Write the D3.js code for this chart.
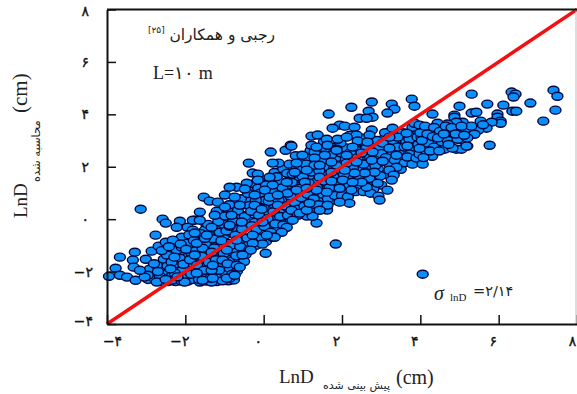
<!DOCTYPE html>
<html>
<head>
<meta charset="utf-8">
<script src="https://cdn.jsdelivr.net/npm/d3@7"></script>
<style>
body { margin: 0; background: #fff; }
svg { display: block; }
</style>
</head>
<body>
<div id="chart-area"></div>
<script>
// Points: [predicted LnD, computed LnD]
const cloudLeft = [[-3.14,0.38],[-2.58,0],[-2.5,-0.15],[-2.76,-0.61],[-3.29,-1.26],[-3.67,-1.45],[-3.78,-1.87],[-3.34,-1.56],[-3.01,-1.53],[-3.95,-2.18],[-3.67,-2.14],[-3.49,-2.21],[-3.27,-2.33],[-3.32,-1.83],[-2.91,-1.91],[-2.86,-1.22],[-2.68,-1.03],[-2.5,-0.88],[-2.14,-0.08],[-2.22,-0.31],[-2.55,-1.53],[-2.96,-2.14],[-2.65,-2.18],[-2.45,-1.79],[-1.96,-2.14],[-3.04,-2.21],[-2.35,-2.33],[-2.73,-2.4],[-2.02,-2.4],[-1.63,-2.4],[-1.33,-2.4],[-1.76,-0.04],[-1.94,-0.31],[-2.09,-0.69],[-2.32,-0.8],[-1.81,-0.42],[-1.5,-0.42],[-1.45,-0.69],[-1.96,-0.92],[-2.22,-1.18],[-2.47,-1.37],[-2.09,-1.07],[-1.84,-1.3],[-2.14,-1.49],[-2.35,-1.64],[-2.73,-1.76],[-3.16,-1.95],[-2.07,-1.95],[-1.81,-1.68],[-1.45,-1.56],[-1.3,-1.37],[-1.43,-2.14],[-2.27,-2.06],[-2.8,-1.7],[-2.7,-2],[-2.6,-1.2],[-2.5,-2.3],[-2.42,-1.05],[-2.38,-1.9],[-2.28,-1.45],[-2.2,-2.2],[-2.12,-0.95],[-2.05,-1.72],[-1.98,-1.15],[-1.9,-0.6],[-1.88,-1.55],[-1.85,-2.1],[-1.78,-0.82],[-1.72,-1.2],[-1.7,-1.75],[-1.65,-2.3],[-1.6,-0.55],[-1.58,-1.42],[-1.52,-1.95],[-1.48,-0.95],[-1.42,-0.2],[-1.4,-1.65],[-1.36,-2.25],[-1.3,-0.75],[-1.26,-1.1],[-1.22,-1.55],[-1.2,0.3],[-1.16,-0.1],[-1.14,-1.95],[-1.08,-0.82],[-1.05,-2.35],[-1.02,-1.32],[-1.56,-1.11],[-1.76,-1.37],[-1.33,-1.26],[-1.71,-0.92],[-1.5,-0.73],[-1.12,-0.5],[-1.71,-2.06],[-1.56,-2.33],[-1.3,-2.25],[-1.33,-1.95],[-1.3,-1.76],[-1.05,-1.56],[-1.81,-0.04],[-1.63,-0.04],[-1.63,0.27],[-1.25,0.15],[-1.53,0.84],[-1.38,0.69],[-1.17,0.65],[-1.33,-0.31],[-1.45,-0.61],[-1.76,-0.53]];

const cloudLeftInner = [[-2.95,-2.3],[-2.85,-2.05],[-2.78,-2.28],[-2.62,-2.38],[-2.58,-1.88],[-2.52,-2.1],[-2.44,-2.38],[-2.4,-1.55],[-2.33,-2.12],[-2.3,-1.2],[-2.25,-2.38],[-2.18,-1.72],[-2.15,-1.98],[-2.1,-2.36],[-2.05,-1.28],[-1.98,-1.82],[-1.94,-2.36],[-1.92,-1.42],[-1.86,-1.02],[-1.82,-2.3],[-1.8,-1.9],[-1.75,-0.72],[-1.74,-1.52],[-1.68,-1.05],[-1.66,-2],[-1.62,-1.62],[-1.6,-0.78],[-1.56,-2.18],[-1.54,-1.28],[-1.5,-1.78],[-1.46,-0.22],[-1.46,-2.36],[-1.42,-1.15],[-1.38,-0.48],[-1.36,-1.82],[-1.32,-0.95],[-1.28,-2.05],[-1.24,-0.35],[-1.22,-1.2],[-1.2,-2.38],[-1.18,-1.68],[-1.15,-0.65],[-1.12,-2.15],[-1.1,-1.05],[-1.08,0.08],[-1.05,-1.82],[-1.02,-0.2],[-1,-0.62],[-0.98,-2.05],[-0.96,-1.48],[-0.92,-0.92],[-0.9,-2.35],[-0.9,0.28],[-0.86,-1.88],[-0.84,-0.5],[-0.82,-1.25],[-0.8,0.38],[-0.78,-1.58],[-0.76,-2.32],[-0.74,-0.32],[-0.72,-1.15],[-0.7,0.62],[-0.68,-1.98],[-0.66,-0.1],[-0.64,-0.92],[-0.62,-1.58]];

const cloudMiddle = [[-0.98,0.12],[-0.95,-0.45],[-0.92,-1.7],[-0.88,0.55],[-0.84,-1],[-0.8,-2.1],[-0.78,-0.08],[-0.72,-0.62],[-0.7,-1.4],[-0.66,0.32],[-0.6,-1.05],[-0.58,0.78],[-0.55,-0.38],[-0.5,-1.62],[-0.48,0.1],[-0.42,-0.72],[-0.4,0.98],[-0.36,-1.15],[-0.32,0.3],[-0.3,-0.25],[-0.2,0.72],[-0.18,-0.4],[-0.12,0.15],[-0.08,1],[-0.05,-0.72],[0,0.42],[0.02,-0.28],[0.06,1.3],[0.1,0.02],[0.13,0.68],[0.18,-0.5],[0.22,1.08],[0.25,0.28],[0.3,-0.18],[0.33,1.62],[0.38,0.72],[0.42,0.1],[0.48,1.2],[0.5,-0.22],[0.55,0.5],[0.6,1.75],[0.62,0.15],[0.68,0.88],[0.72,1.4],[0.8,0.62],[0.84,1.92],[0.88,0.38],[0.92,1.18],[0.96,0.82],[-0.38,2.14],[0.18,2.56],[0.56,2.63],[0.69,2.82],[0.38,2.14],[0.23,2.14],[-0.28,1.76],[-0.15,1.72],[0.15,1.6],[-0.15,1.49],[-0.69,1.22],[-0.87,1.22],[-0.43,1.37],[-0.48,1.15],[0.23,1.3],[0.59,1.41],[0.74,1.72],[0.03,1.11],[0.61,0.99],[-0.99,0.92],[-0.74,0.84],[-0.23,0.92],[0.15,0.84],[0.36,0.92],[0.84,1.11],[-0.99,0.46],[-0.61,0.53],[-0.23,0.53],[-0.05,0.38],[0.36,0.53],[0.71,0.34],[-0.82,0.15],[-0.56,-0.11],[-0.03,-0.11],[0.59,-0.31],[0.46,-0.5],[0.23,-0.69],[-0.28,-0.61],[-0.87,-0.27],[0.05,-1.3],[-0.03,-0.95],[0.28,-0.69],[0.08,-0.61],[-0.28,-0.92],[-0.33,-1.18],[-0.54,-1.37],[-0.69,-1.76],[-0.87,-2.25],[-0.94,-2.25],[-0.74,-2.14],[-0.61,-1.83],[-0.94,-1.18],[-0.69,-0.8],[-0.87,-0.23],[0.87,0.15],[0.74,-0.04],[0.92,0.23]];

const cloudMiddleInner = [[-0.6,-0.55],[-0.56,0.15],[-0.54,-1.15],[-0.52,0.55],[-0.5,-0.82],[-0.46,-1.35],[-0.44,0.75],[-0.42,-0.22],[-0.38,-0.98],[-0.36,0.52],[-0.34,0.02],[-0.3,1.12],[-0.28,-0.75],[-0.26,0.2],[-0.24,1.35],[-0.22,-0.12],[-0.2,-1],[-0.16,0.32],[-0.14,1.18],[-0.12,-0.55],[-0.1,0.72],[-0.08,-0.28],[-0.06,0.95],[-0.02,0.05],[0,1.5],[0,-0.5],[0.04,0.72],[0.06,-0.85],[0.08,0.22],[0.1,1.05],[0.12,-0.32],[0.14,0.45],[0.16,1.42],[0.2,-0.08],[0.2,0.98],[0.24,-0.4],[0.26,0.58],[0.28,1.78],[0.3,0.12],[0.34,1.18],[0.36,-0.35],[0.4,0.35],[0.4,1.45],[0.44,0.85],[0.46,-0.12],[0.5,1.92],[0.52,0.28],[0.54,1.05],[0.56,-0.32],[0.58,0.72],[0.6,1.22],[0.64,0.42],[0.66,2.1],[0.68,0.02],[0.7,1.58],[0.72,0.75],[0.76,1.05],[0.78,0.22],[0.8,1.35],[0.82,2.42],[0.86,0.55],[0.88,1.62],[0.9,0.92],[0.94,2],[0.96,0.42],[0.98,1.28]];

const cloudUpper = [[1,1.62],[1.04,0.5],[1.08,2.1],[1.12,0.95],[1.15,1.38],[1.2,0.28],[1.22,1.8],[1.28,0.78],[1.3,2.55],[1.36,1.22],[1.4,0.55],[1.42,1.85],[1.5,2.25],[1.52,0.95],[1.56,1.45],[1.6,2.65],[1.64,0.78],[1.68,1.2],[1.72,2.45],[1.78,1.62],[1.82,0.9],[1.86,2.05],[1.92,1.42],[1.96,2.9],[2,0.9],[2.05,1.7],[2.1,2.3],[2.15,0.85],[2.18,1.3],[2.22,2.55],[2.28,1.95],[2.35,1.05],[2.4,2.35],[2.42,1.58],[2.48,3.1],[2.55,1.05],[2.55,2.1],[2.62,2.7],[2.7,1.55],[2.72,2.35],[2.8,1.15],[2.85,2.05],[2.9,3],[2.98,1.65],[3,2.5],[3.1,3.3],[3.12,2.35],[3.2,2.1],[3.3,3],[3.35,2.25],[3.45,2.6],[3.5,1.9],[3.55,3.3],[3.6,2.15],[3.72,3.05],[3.75,2.5],[3.8,2.1],[2.24,4.27],[2.76,4.47],[3.27,4.39],[3.34,4.2],[3.16,4.05],[3.78,4.58],[3.85,4.31],[2.68,4.12],[2.78,3.89],[2.45,3.85],[2.63,3.85],[1.66,4.01],[1.94,3.59],[2.07,3.55],[1.76,3.47],[2.32,3.51],[2.76,3.4],[3.29,3.47],[3.8,3.51],[2.37,3.21],[2.7,3.21],[1.22,3.17],[1.38,3.21],[1.61,3.05],[1.89,3.05],[2.12,3.13],[2.4,2.98],[0.71,2.79],[1.22,2.82],[1.35,2.75],[1.63,2.82],[1.86,2.67],[2.27,2.75],[2.65,2.94],[3.04,2.9],[3.42,3.13],[3.65,3.28],[3.85,3.66],[3.93,3.13],[3.21,3.13],[3.42,2.75],[3.6,2.75],[3.85,2.75],[3.21,2.71],[2.78,2.56],[2.5,2.52],[2.12,2.44],[1.86,2.63],[1.56,2.44],[1.3,2.33],[0.99,2.44],[0.84,2.14],[1.3,2.06],[1.43,2.06],[1.73,2.18],[2.12,2.14],[2.37,2.18],[2.76,2.25],[3.04,2.21],[3.39,2.44],[3.67,2.37],[3.9,2.33],[3.39,1.98],[3.21,1.87],[3.32,1.68],[3.27,1.49],[2.91,1.37],[3.16,1.11],[2.73,0.99],[2.93,0.88],[2.63,1.22],[2.5,1.41],[2.83,1.79],[2.58,1.76],[2.32,1.76],[2.07,1.87],[1.73,1.79],[1.43,1.6],[1.1,1.87],[0.79,1.79],[1.05,1.41],[1.73,1.45],[2.02,1.49],[2.27,1.41],[1.94,1.18],[2.24,1.11],[1.61,1.03],[1.35,1.11],[1.1,1.18],[1.35,-0.15],[2.19,0.61],[1.63,0.53],[1.94,0.65],[1.25,0.11],[1.1,0.34],[1.43,0.34],[1.17,0.61],[2.96,0.73]];

const cloudUpperInner = [[1,2.25],[1.02,0.72],[1.06,1.05],[1.08,1.68],[1.1,0.12],[1.14,2.35],[1.16,0.85],[1.18,1.55],[1.2,2.62],[1.24,0.5],[1.26,1.05],[1.28,1.95],[1.32,0.35],[1.34,1.42],[1.36,2.45],[1.4,0.95],[1.44,1.25],[1.46,2.2],[1.48,0.72],[1.5,1.72],[1.54,2.95],[1.56,1.12],[1.6,2],[1.62,0.35],[1.66,1.55],[1.68,2.28],[1.7,0.98],[1.74,2.75],[1.76,1.32],[1.8,1.95],[1.84,0.72],[1.86,2.35],[1.9,1.1],[1.94,1.78],[1.98,2.52],[2.02,1.25],[2.04,2.1],[2.08,0.98],[2.1,2.72],[2.14,1.55],[2.18,2],[2.2,3.2],[2.24,1.3],[2.26,2.3],[2.3,1.6],[2.34,2.72],[2.38,1.3],[2.4,1.95],[2.44,2.6],[2.46,1.15],[2.5,2.2],[2.52,2.95],[2.56,1.5],[2.6,2.4],[2.64,1.9],[2.68,3.05],[2.7,1.25],[2.74,2.05],[2.78,2.75],[2.82,1.55],[2.88,2.4],[2.92,1.9],[2.95,2.75],[3,1.3],[3.02,2.2],[3.06,3.05],[3.1,1.7],[3.14,2.55],[3.18,2.95],[3.24,1.95],[3.26,2.45],[3.32,3.25],[3.36,2.05],[3.4,2.85],[3.48,2.3],[3.52,3.05],[3.58,2.5],[3.64,2.95],[3.7,2.28],[3.78,2.88],[3.82,3.25],[3.88,2.5],[3.92,3.4]];

const cloudRight = [[5.31,4.77],[6.33,4.85],[6.43,4.77],[6.38,4.66],[7.4,4.92],[7.5,4.69],[7.45,4.16],[7.14,3.74],[6.81,4.43],[6.35,4.12],[6.45,4.12],[6.12,4.35],[5.71,4.39],[5,4.31],[5.31,4.05],[5.43,4.08],[4.31,4.01],[4.87,3.97],[4.87,3.89],[5.97,4.01],[5.97,3.89],[6.05,3.74],[6.05,3.66],[5.82,3.7],[5.54,3.74],[5.69,3.47],[5.48,3.4],[5.38,3.24],[5.08,3.7],[4.92,3.7],[4.44,3.66],[4.69,3.63],[5.05,3.4],[4.74,3.32],[4.41,3.32],[4.16,3.4],[3.98,3.59],[4.03,3.13],[4.23,3.13],[4.54,3.13],[5,3.13],[5.08,3.02],[5.2,2.79],[4.92,2.67],[5.05,2.67],[4.62,2.67],[4.49,2.82],[5.77,2.82],[3.98,2.48],[4.16,2.48],[4.29,2.9],[4.77,3.02],[4.06,2.1],[3.67,2.79],[4.29,2.63],[4.41,2.9],[4.82,2.71],[5.18,2.79],[3.95,2.85],[4,3.3],[4.1,2.75],[4.12,3.55],[4.2,2.9],[4.35,3.5],[4.35,2.75],[4.5,3.35],[4.55,2.95],[4.65,3.55],[4.7,3],[4.85,3.4],[4.95,3.05],[5.15,3.45],[5.2,3.1],[5.3,3.55],[5.6,3.6],[4.3,2.4],[3.98,2.7],[4.04,3],[4.08,2.35],[4.18,3.25],[4.25,2.6],[4.32,3.15],[4.45,3.1],[4.48,2.6],[4.6,3.25],[4.72,2.85],[4.8,3.5],[4.9,3.25],[5.05,3.55],[5.12,3.2]];

const outliers = [[1.84,-0.95],[4.06,-2.1]];

const tickValues = [-4, -2, 0, 2, 4, 6, 8];
const tickLabels = ['−۴', '−۲', '۰', '۲', '۴', '۶', '۸'];
const fitLine = [-4, 8];

const svgWidth = 577;
const svgHeight = 394;
const serif = '"Liberation Serif", serif';
const arabic = '"DejaVu Sans", sans-serif';

const svg = d3.select('#chart-area')
    .append('svg')
    .attr('width', svgWidth)
    .attr('height', svgHeight);

// Scales
const x = d3.scaleLinear().domain([-4, 8]).range([107, 577]);
const y = d3.scaleLinear().domain([-4, 8]).range([324, 9.5]);

// Points
const allPoints = cloudLeftInner.concat(cloudMiddleInner, cloudUpperInner, cloudLeft, cloudMiddle, cloudUpper, cloudRight, outliers);

svg.append('g')
    .selectAll('ellipse')
    .data(allPoints)
    .enter()
    .append('ellipse')
    .attr('cx', (d) => x(d[0]))
    .attr('cy', (d) => y(d[1]))
    .attr('rx', 5.5)
    .attr('ry', 4)
    .attr('fill', '#0a8ffa')
    .attr('stroke', '#02073f')
    .attr('stroke-width', 1.4);

// Red line
svg.append('path')
    .datum(fitLine)
    .attr('d', d3.line().x((d) => x(d)).y((d) => y(d)))
    .attr('stroke', '#f21010')
    .attr('stroke-width', 3.5)
    .attr('fill', 'none');

// Frame
svg.append('line')
    .attr('x1', x(8) - 1).attr('x2', x(8) - 1)
    .attr('y1', y(8)).attr('y2', y(-4))
    .attr('stroke', '#bbb');

svg.append('line')
    .attr('x1', x(-4)).attr('x2', x(8))
    .attr('y1', y(8)).attr('y2', y(8))
    .attr('stroke', '#111')
    .attr('stroke-width', 2);

// X Axis
const xAxisCall = d3.axisBottom(x)
    .tickValues(tickValues)
    .tickSizeInner(-9)
    .tickSizeOuter(0)
    .tickPadding(12)
    .tickFormat((d, i) => tickLabels[i]);

const xAxisGroup = svg.append('g')
    .attr('transform', 'translate(0, ' + y(-4) + ')')
    .call(xAxisCall);

// Y Axis
const yAxisCall = d3.axisLeft(y)
    .tickValues(tickValues)
    .tickSizeInner(-9)
    .tickSizeOuter(0)
    .tickPadding(18)
    .tickFormat((d, i) => tickLabels[i]);

const yAxisGroup = svg.append('g')
    .attr('transform', 'translate(' + x(-4) + ', 0)')
    .call(yAxisCall);

[xAxisGroup, yAxisGroup].forEach((axis) => {
    axis.select('.domain').attr('stroke', '#111').attr('stroke-width', 2);
    axis.selectAll('.tick line').attr('stroke', '#111').attr('stroke-width', 1.5);
    axis.selectAll('.tick text')
        .attr('direction', 'ltr')
        .attr('font-family', arabic)
        .attr('font-size', '14px')
        .attr('fill', '#111')
        .attr('stroke', '#111')
        .attr('stroke-width', 0.35);
});

// the tick labels sit a little left of their ticks in the original
xAxisGroup.selectAll('.tick text')
    .attr('dx', (d) => (d === -4 ? 5 : d === 8 ? -5 : -6));

yAxisGroup.selectAll('.tick text')
    .attr('dx', (d) => (d < 0 ? 4 : 0))
    .attr('dy', (d) => (d === 8 ? '0.45em' : d === -4 ? '0.1em' : '0.32em'));

// Texts in the plot
svg.append('text')
    .attr('x', 275)
    .attr('y', 40)
    .attr('text-anchor', 'end')
    .attr('font-family', arabic)
    .attr('font-size', '15.5px')
    .attr('fill', '#222')
    .text('رجبی و همکاران');

svg.append('text')
    .attr('x', 148)
    .attr('y', 33)
    .attr('font-family', arabic)
    .attr('font-size', '9px')
    .attr('fill', '#222')
    .text('[۲۵]');

svg.append('text')
    .attr('x', 153)
    .attr('y', 79)
    .attr('font-family', serif)
    .attr('font-size', '18px')
    .attr('fill', '#222')
    .text('L=۱۰ m');

svg.append('text')
    .attr('x', 434)
    .attr('y', 300)
    .attr('font-family', serif)
    .attr('font-style', 'italic')
    .attr('font-size', '20px')
    .attr('fill', '#222')
    .text('σ');

svg.append('text')
    .attr('x', 450)
    .attr('y', 301)
    .attr('font-family', serif)
    .attr('font-size', '11px')
    .attr('fill', '#222')
    .text('lnD');

svg.append('text')
    .attr('x', 473)
    .attr('y', 296)
    .attr('font-family', arabic)
    .attr('font-size', '14.5px')
    .attr('fill', '#222')
    .text('=۲/۱۴');

// X Label
svg.append('text')
    .attr('x', 279)
    .attr('y', 383)
    .attr('font-family', serif)
    .attr('font-size', '19px')
    .attr('fill', '#222')
    .text('LnD');

svg.append('text')
    .attr('x', 390)
    .attr('y', 389)
    .attr('text-anchor', 'end')
    .attr('font-family', arabic)
    .attr('font-size', '11px')
    .attr('fill', '#222')
    .text('پیش بینی شده');

svg.append('text')
    .attr('x', 396)
    .attr('y', 384)
    .attr('font-family', serif)
    .attr('font-size', '20px')
    .attr('fill', '#222')
    .text('(cm)');

// Y Label
svg.append('text')
    .attr('transform', 'translate(27, 218) rotate(-90)')
    .attr('font-family', serif)
    .attr('font-size', '19px')
    .attr('fill', '#222')
    .text('LnD');

svg.append('text')
    .attr('transform', 'translate(40, 182) rotate(-90)')
    .attr('font-family', arabic)
    .attr('font-size', '11.5px')
    .attr('fill', '#222')
    .text('محاسبه شده');

svg.append('text')
    .attr('transform', 'translate(27, 113) rotate(-90)')
    .attr('font-family', serif)
    .attr('font-size', '21px')
    .attr('fill', '#222')
    .text('(cm)');
</script>
</body>
</html>
